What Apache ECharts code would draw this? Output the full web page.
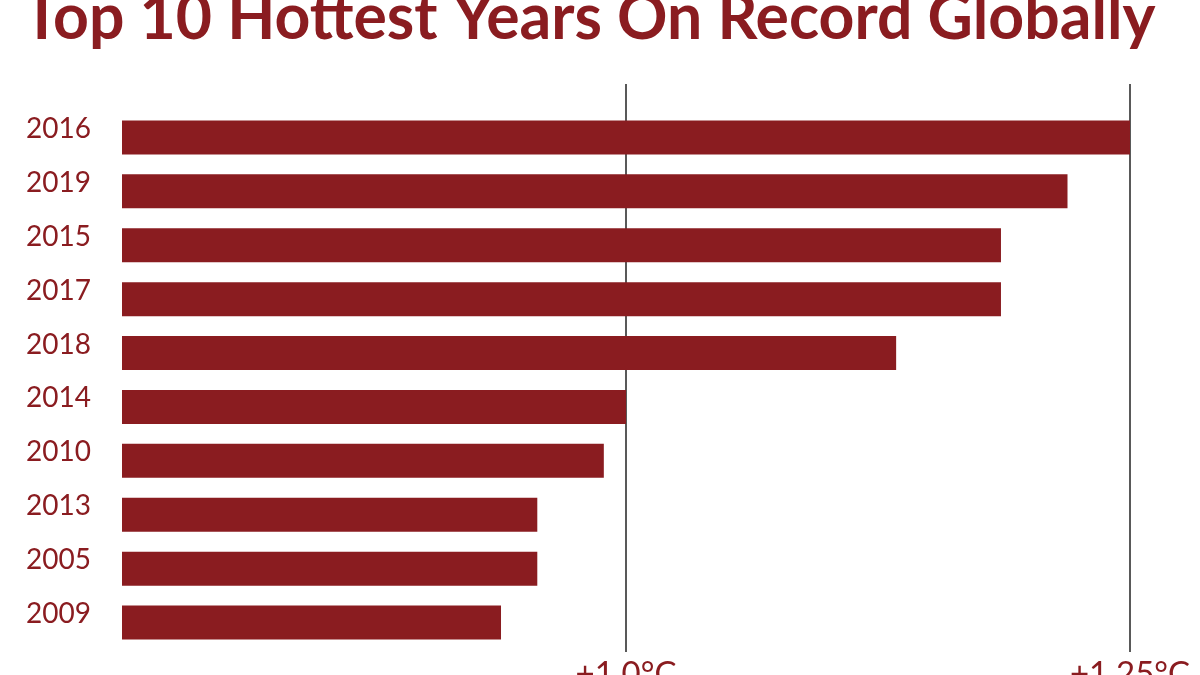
<!DOCTYPE html>
<html>
<head>
<meta charset="utf-8">
<script src="https://cdn.jsdelivr.net/npm/echarts@6/dist/echarts.min.js"></script>
<style>html,body{margin:0;padding:0;background:#fff}#c{width:1200px;height:675px}</style>
</head>
<body>
<div id="c"></div>
<script>
const titleText = 'Top 10 Hottest Years On Record Globally';
const years = ['2016','2019','2015','2017','2018','2014','2010','2013','2005','2009'];
const anomalies = [1.25, 1.219, 1.186, 1.186, 1.134, 1.0, 0.989, 0.956, 0.956, 0.938];
const tickValues = [1.0, 1.25];
const tickLabels = ['+1.0°C', '+1.25°C'];

const RED = '#8a1c20';
const FONT = 'Lato, "DejaVu Sans", sans-serif';

const chart = echarts.init(document.getElementById('c'), null, {renderer: 'canvas'});
chart.setOption({
  backgroundColor: '#ffffff',
  animation: false,
  title: {
    text: titleText,
    left: 18,
    top: -18,
    textStyle: {color: RED, fontFamily: FONT, fontWeight: 'bold', fontSize: 62.5}
  },
  grid: [
    {left: 122, right: 70, top: 84, bottom: 23, containLabel: false, outerBoundsMode: 'none'},
    {left: 122, right: 70, top: 110.5, bottom: 25.5, containLabel: false, outerBoundsMode: 'none'}
  ],
  xAxis: [
    {
      gridIndex: 0, type: 'value', min: 0.75, max: 1.25, interval: 0.25,
      axisLine: {show: false}, axisTick: {show: false},
      splitLine: {show: true, showMinLine: false, showMaxLine: true, lineStyle: {color: '#222', width: 1.5}},
      axisLabel: {
        show: true, showMinLabel: false, margin: 6, verticalAlign: 'top', lineHeight: 33,
        color: RED, fontFamily: FONT, fontSize: 33,
        formatter: function (v) { const i = tickValues.indexOf(Math.round(v * 100) / 100); return i >= 0 ? tickLabels[i] : ''; }
      }
    },
    {
      gridIndex: 1, type: 'value', min: 0.75, max: 1.25,
      show: false
    }
  ],
  yAxis: [
    {gridIndex: 0, type: 'value', show: false},
    {
      gridIndex: 1, type: 'category', data: years, inverse: true,
      axisLine: {show: false}, axisTick: {show: false}, splitLine: {show: false},
      axisLabel: {margin: 31, color: RED, fontFamily: FONT, fontSize: 28, verticalAlign: 'bottom', lineHeight: 17}
    }
  ],
  series: [
    {
      type: 'bar', xAxisIndex: 1, yAxisIndex: 1,
      data: anomalies, barWidth: 34,
      itemStyle: {color: RED}
    }
  ]
});
</script>
</body>
</html>
